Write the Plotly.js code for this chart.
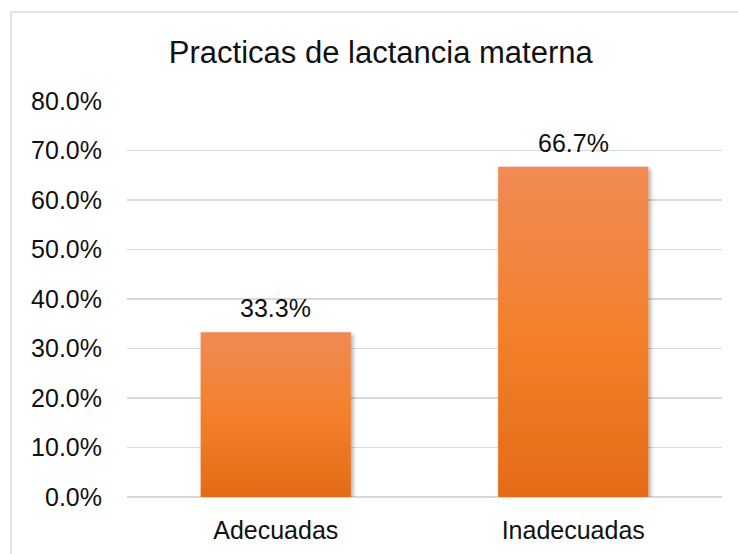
<!DOCTYPE html>
<html>
<head>
<meta charset="utf-8">
<script src="https://cdn.plot.ly/plotly-3.0.1.min.js"></script>
<style>
  html, body { margin: 0; padding: 0; background: #fff; }
  #chart { width: 738px; height: 554px; }
</style>
</head>
<body>
<div id="chart"></div>
<script>
const categories = ["Adecuadas", "Inadecuadas"];
const values = [0.333, 0.667];
const tickValues = [0, 0.1, 0.2, 0.3, 0.4, 0.5, 0.6, 0.7, 0.8];
const tickLabels = ["0.0%", "10.0%", "20.0%", "30.0%", "40.0%", "50.0%", "60.0%", "70.0%", "80.0%"];
const chartTitle = "Practicas de lactancia materna";

const FONT = "Liberation Sans, Arial, sans-serif";

const trace = {
  type: "bar",
  x: categories,
  y: values,
  marker: { color: "#F27F2C", line: { width: 0 } },
  hoverinfo: "skip"
};

const valueLabels = categories.map(function (c, i) {
  return {
    x: c, y: values[i], xref: "x", yref: "y",
    text: (values[i] * 100).toFixed(1) + "%",
    showarrow: false,
    yanchor: "bottom",
    yshift: 8,
    font: { family: FONT, size: 25, color: "#111" }
  };
});

const layout = {
  width: 738,
  height: 554,
  margin: { l: 127, r: 16, t: 101, b: 57 },
  paper_bgcolor: "#fff",
  plot_bgcolor: "#fff",
  showlegend: false,
  bargap: 0.495,
  font: { family: FONT, size: 25, color: "#111" },
  title: {
    text: chartTitle,
    font: { family: FONT, size: 31, color: "#111" },
    x: 0.516, xref: "container", xanchor: "center",
    y: 1 - 52 / 554, yref: "container", yanchor: "middle"
  },
  xaxis: {
    type: "category",
    showgrid: false,
    showline: false,
    zeroline: false,
    ticks: "",
    ticklabelstandoff: 16,
    tickfont: { family: FONT, size: 25, color: "#111" }
  },
  yaxis: {
    range: [0, 0.8],
    tickvals: tickValues,
    ticktext: tickLabels,
    showgrid: true,
    gridcolor: "#D9D9D9",
    gridwidth: 1.5,
    zeroline: true,
    zerolinecolor: "#D9D9D9",
    zerolinewidth: 1.5,
    showline: false,
    ticks: "",
    ticklabelstandoff: 24,
    tickfont: { family: FONT, size: 25, color: "#111" }
  },
  annotations: valueLabels,
  shapes: [{
    type: "rect",
    xref: "paper", yref: "paper",
    x0: (11 - 127) / 595, x1: (760 - 127) / 595,
    y0: (497 - 600) / 396, y1: (497 - 12) / 396,
    line: { color: "#D9D9D9", width: 1.5 },
    fillcolor: "rgba(0,0,0,0)",
    layer: "below"
  }]
};

Plotly.newPlot("chart", [trace], layout, { staticPlot: true, displayModeBar: false }).then(function (gd) {
  const svg = gd.querySelector(".main-svg");
  const ns = "http://www.w3.org/2000/svg";
  let defs = svg.querySelector("defs");
  if (!defs) { defs = document.createElementNS(ns, "defs"); svg.insertBefore(defs, svg.firstChild); }
  const grad = document.createElementNS(ns, "linearGradient");
  grad.setAttribute("id", "barGrad");
  grad.setAttribute("x1", "0"); grad.setAttribute("y1", "0");
  grad.setAttribute("x2", "0"); grad.setAttribute("y2", "1");
  [["0%", "#F08B55"], ["50%", "#F3802B"], ["100%", "#E36B17"]].forEach(function (s) {
    const st = document.createElementNS(ns, "stop");
    st.setAttribute("offset", s[0]);
    st.setAttribute("stop-color", s[1]);
    grad.appendChild(st);
  });
  defs.appendChild(grad);
  const filt = document.createElementNS(ns, "filter");
  filt.setAttribute("id", "barShadow");
  filt.setAttribute("x", "-10%"); filt.setAttribute("y", "-10%");
  filt.setAttribute("width", "125%"); filt.setAttribute("height", "125%");
  const ds = document.createElementNS(ns, "feDropShadow");
  ds.setAttribute("dx", "2"); ds.setAttribute("dy", "2");
  ds.setAttribute("stdDeviation", "2");
  ds.setAttribute("flood-color", "#000");
  ds.setAttribute("flood-opacity", "0.35");
  filt.appendChild(ds);
  defs.appendChild(filt);
  gd.querySelectorAll(".bars .point path").forEach(function (p) {
    p.style.fill = "url(#barGrad)";
    p.setAttribute("filter", "url(#barShadow)");
  });
});
</script>
</body>
</html>
